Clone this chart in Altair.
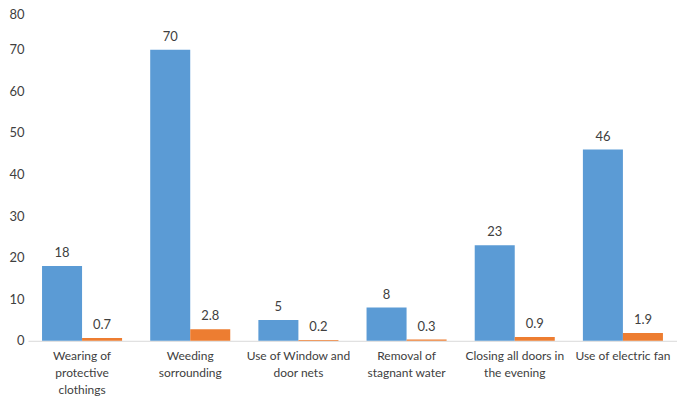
import altair as alt
import pandas as pd

categories = [
    "Wearing of\nprotective\nclothings",
    "Weeding\nsorrounding",
    "Use of Window and\ndoor nets",
    "Removal of\nstagnant water",
    "Closing all doors in\nthe evening",
    "Use of electric fan",
]
series_names = ["Series 1", "Series 2"]
series1_values = [18, 70, 5, 8, 23, 46]
series2_values = [0.7, 2.8, 0.2, 0.3, 0.9, 1.9]
y_ticks = [0, 10, 20, 30, 40, 50, 60, 70, 80]
colors = ["#5B9BD5", "#ED7D31"]

rows = []
for c, v in zip(categories, series1_values):
    rows.append({"category": c, "series": series_names[0], "value": v})
for c, v in zip(categories, series2_values):
    rows.append({"category": c, "series": series_names[1], "value": v})
df = pd.DataFrame(rows)

FONT = "Lato"

x_enc = alt.X(
    "category:N",
    sort=categories,
    scale=alt.Scale(paddingInner=0.26, paddingOuter=0.13),
    axis=alt.Axis(
        title=None,
        labelAngle=0,
        labelExpr="split(datum.label, '\\n')",
        labelFont=FONT,
        labelFontSize=12,
        labelColor="#404040",
        labelPadding=10,
        labelLineHeight=17,
        ticks=False,
        domainColor="#d9d9d9",
        domainWidth=1,
    ),
)
y_enc = alt.Y(
    "value:Q",
    scale=alt.Scale(domain=[0, 80], nice=False),
    axis=alt.Axis(
        title=None,
        values=y_ticks,
        grid=False,
        domain=False,
        ticks=False,
        labelFont=FONT,
        labelFontSize=13,
        labelColor="#404040",
        labelPadding=4,
        labelBaseline={"condition": {"test": "datum.value === 80", "value": "top"},
                       "value": "middle"},
    ),
)
xoff = alt.XOffset("series:N", sort=series_names, scale=alt.Scale(paddingInner=0, paddingOuter=0))

base = alt.Chart(df).encode(x=x_enc, xOffset=xoff, y=y_enc)

bars = base.mark_bar().encode(
    color=alt.Color("series:N", sort=series_names,
                    scale=alt.Scale(domain=series_names, range=colors), legend=None),
)

labels = base.mark_text(dy=-13, font=FONT, fontSize=13, color="#404040").encode(
    text=alt.Text("value:Q"),
)

chart = (bars + labels).properties(
    width=650,
    height=333,
    background="white",
    padding={"left": 0, "top": 0, "right": 0, "bottom": 0},
).configure_view(stroke=None)

chart.save("out.html", embed_options={"renderer": "svg", "actions": False})
